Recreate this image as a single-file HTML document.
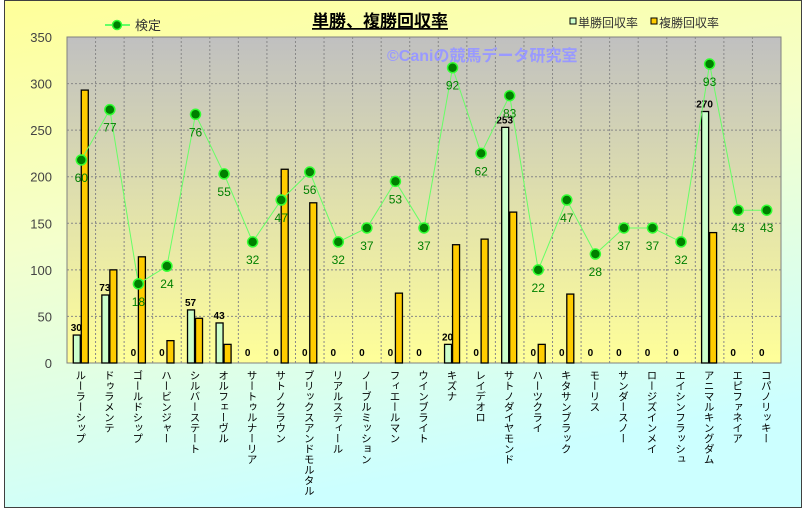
<!DOCTYPE html>
<html><head><meta charset="utf-8"><style>
body{margin:0;width:805px;height:509px;overflow:hidden;background:#fff}
svg{position:absolute;left:0;top:0}
.xl{position:absolute;top:370px;writing-mode:vertical-rl;text-orientation:mixed;font-feature-settings:"vert" 1;font:10.5px "Noto Sans CJK JP",sans-serif;color:#000;line-height:12px;white-space:nowrap}
</style></head><body>
<svg width="805" height="509" xmlns="http://www.w3.org/2000/svg">
<defs>
<linearGradient id="bg" x1="0" y1="0" x2="0.3" y2="1"><stop offset="0" stop-color="#ffff99"/><stop offset="0.45" stop-color="#f4ffcc"/><stop offset="1" stop-color="#ccffff"/></linearGradient>
<linearGradient id="pa" x1="0" y1="0" x2="0" y2="1"><stop offset="0" stop-color="#c0c0c0"/><stop offset="1" stop-color="#ffff99"/></linearGradient>
</defs>
<rect x="4.5" y="0.5" width="797" height="507" fill="url(#bg)" stroke="#404040"/>
<rect x="67" y="37" width="714" height="326" fill="url(#pa)" stroke="#808080"/>
<g id="g"></g>
<text x="380" y="27" text-anchor="middle" font-family="Noto Sans CJK JP,sans-serif" font-weight="bold" font-size="17" text-decoration="underline">単勝、複勝回収率</text>
<text x="387" y="61" font-family="Liberation Sans,Noto Sans CJK JP,sans-serif" font-weight="bold" font-size="16" fill="#9999ff">©Caniの競馬データ研究室</text>
<line x1="105" y1="25" x2="130" y2="25" stroke="#66ff66" stroke-width="2"/><circle cx="117" cy="25" r="4.5" fill="#008000" stroke="#33ff33" stroke-width="1.5"/>
<text x="135" y="30" font-family="Noto Sans CJK JP,sans-serif" font-size="13" fill="#333">検定</text>
<rect x="570" y="18" width="6" height="6" fill="#ccffcc" stroke="#000"/><text x="578" y="27" font-family="Noto Sans CJK JP,sans-serif" font-size="12" fill="#333">単勝回収率</text>
<rect x="651" y="18" width="6" height="6" fill="#ffcc00" stroke="#000"/><text x="659" y="27" font-family="Noto Sans CJK JP,sans-serif" font-size="12" fill="#333">複勝回収率</text>
</svg>
<div id="xl"></div>
<script>
const names=["ルーラーシップ","ドゥラメンテ","ゴールドシップ","ハービンジャー","シルバーステート","オルフェーヴル","サートゥルナーリア","サトノクラウン","ブリックスアンドモルタル","リアルスティール","ノーブルミッション","フィエールマン","ウインブライト","キズナ","レイデオロ","サトノダイヤモンド","ハーツクライ","キタサンブラック","モーリス","サンダースノー","ロージズインメイ","エイシンフラッシュ","アニマルキングダム","エピファネイア","コパノリッキー"];
const s=[30,73,0,0,57,43,0,0,0,0,0,0,0,20,0,253,0,0,0,0,0,0,270,0,0];
const f=[293,100,114,24,48,20,0,208,172,0,0,75,0,127,133,162,20,74,0,0,0,0,140,0,0];
const L=[218,272,85,104,267,203,130,175,205,130,145,195,145,317,225,287,100,175,117,145,145,130,321,164,164];
const LL=[60,77,18,24,76,55,32,47,56,32,37,53,37,92,62,83,22,47,28,37,37,32,93,43,43];
const X0=67,W=714/25,Y0=363,k=326/350;
const y=v=>Y0-v*k;
let h='';
for(let v=0;v<=350;v+=50){h+=`<text x="52" y="${y(v)+5}" text-anchor="end" font-family="Liberation Sans,sans-serif" font-size="13" fill="#444">${v}</text>`;if(v>0&&v<350)h+=`<line x1="67" y1="${y(v)}" x2="781" y2="${y(v)}" stroke="#888" stroke-dasharray="2,2"/>`;}
for(let i=1;i<25;i++){const x=X0+W*i;h+=`<line x1="${x}" y1="37" x2="${x}" y2="363" stroke="#888" stroke-dasharray="2,2"/>`;}
let pts=[],xl='';
for(let i=0;i<25;i++){const c=X0+W*(i+0.5);
if(s[i]>0)h+=`<rect x="${c-8}" y="${y(s[i])}" width="7" height="${s[i]*k}" fill="#ccffcc" stroke="#000" stroke-width="1.3"/>`;
if(f[i]>0)h+=`<rect x="${c}" y="${y(f[i])}" width="7" height="${f[i]*k}" fill="#ffcc00" stroke="#000" stroke-width="1.3"/>`;
h+=`<text x="${c-5}" y="${s[i]>0?y(s[i])-4:356}" text-anchor="middle" font-family="Liberation Sans,sans-serif" font-weight="bold" font-size="10">${s[i]}</text>`;
pts.push(c+','+y(L[i]));
xl+=`<div class="xl" style="left:${c-7}px">${names[i]}</div>`;}
h+=`<polyline points="${pts.join(' ')}" fill="none" stroke="#66ff66" stroke-width="1"/>`;
for(let i=0;i<25;i++){const c=X0+W*(i+0.5);h+=`<circle cx="${c}" cy="${y(L[i])}" r="5" fill="#008000" stroke="#33ff33" stroke-width="1.5"/><text x="${c}" y="${y(L[i])+22}" text-anchor="middle" font-family="Liberation Sans,sans-serif" font-size="12" fill="#008000">${LL[i]}</text>`;}
document.getElementById('g').innerHTML=h;
document.getElementById('xl').innerHTML=xl;
</script>
</body></html>
